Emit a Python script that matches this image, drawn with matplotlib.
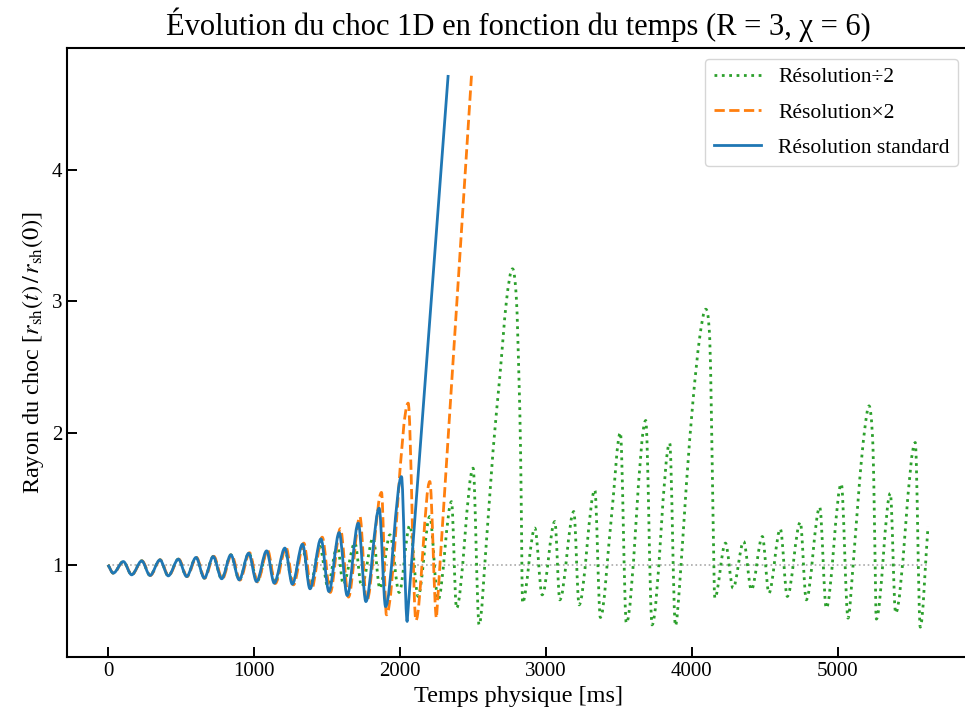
import matplotlib
matplotlib.use('Agg')
import matplotlib.pyplot as plt
from matplotlib.path import Path
from matplotlib.patches import PathPatch
from matplotlib.lines import Line2D

plt.rcParams['font.family'] = ['Liberation Serif', 'DejaVu Serif']
plt.rcParams['mathtext.fontset'] = 'stix'

# temps [ms] / rayon normalise, extrema
t_std = [0, 36, 105, 162, 231, 288, 356, 413, 482, 539, 603, 660, 721, 779,
         842, 899, 964, 1018, 1087, 1139, 1212, 1263, 1333, 1384, 1459, 1514,
         1584, 1639, 1715, 1767, 1858, 1902, 2011, 2050, 2331]
r_std = [1.0, 0.937, 1.025, 0.924, 1.03, 0.919, 1.038, 0.916, 1.043, 0.911,
         1.056, 0.899, 1.063, 0.894, 1.076, 0.886, 1.088, 0.873, 1.106, 0.861,
         1.127, 0.853, 1.157, 0.818, 1.197, 0.797, 1.245, 0.767, 1.317, 0.721,
         1.43, 0.683, 1.67, 0.57, 4.72]

t_x2 = [0, 37, 106, 163, 233, 290, 358, 415, 485, 542, 606, 663, 725, 783,
        847, 904, 970, 1024, 1094, 1146, 1220, 1271, 1342, 1393, 1468, 1523,
        1592, 1648, 1726, 1772, 1874, 1908, 2057, 2110, 2205, 2251, 2491]
r_x2 = [1.0, 0.937, 1.025, 0.924, 1.03, 0.919, 1.038, 0.916, 1.043, 0.911,
        1.056, 0.899, 1.065, 0.893, 1.078, 0.884, 1.092, 0.87, 1.11, 0.858,
        1.133, 0.848, 1.165, 0.81, 1.21, 0.79, 1.275, 0.755, 1.367, 0.72,
        1.55, 0.62, 2.228, 0.577, 1.633, 0.595, 4.72]

t_d2 = [0, 36, 105, 162, 231, 288, 356, 413, 482, 539, 603, 660, 721, 779,
        842, 899, 966, 1022, 1090, 1145, 1212, 1265, 1332, 1385, 1452, 1505,
        1572, 1612, 1692, 1738, 1817, 1863, 1932, 1995, 2068, 2125, 2205, 2262,
        2354, 2388, 2502, 2543, 2594, 2639, 2685, 2731, 2772, 2799, 2817, 2827,
        2834, 2840, 2925, 2975, 3062, 3096, 3192, 3228, 3336, 3374, 3450, 3511,
        3552, 3685, 3728, 3849, 3888, 3918, 3964, 4009, 4055, 4096, 4123, 4135,
        4146, 4158, 4231, 4283, 4356, 4409, 4484, 4529, 4607, 4655, 4744, 4785,
        4877, 4922, 5025, 5071, 5105, 5151, 5185, 5215, 5242, 5253, 5265, 5361,
        5397, 5532, 5566, 5619]
r_d2 = [1.0, 0.937, 1.025, 0.924, 1.03, 0.919, 1.038, 0.916, 1.043, 0.911,
        1.056, 0.899, 1.063, 0.894, 1.076, 0.886, 1.088, 0.875, 1.10, 0.866,
        1.115, 0.855, 1.13, 0.845, 1.14, 0.84, 1.15, 0.85, 1.167, 0.835,
        1.205, 0.82, 1.228, 0.79, 1.30, 0.76, 1.367, 0.734, 1.48, 0.67,
        1.734, 0.544, 1.19, 1.873, 2.43, 3.01, 3.248, 3.01, 2.38, 1.87,
        1.24, 0.71, 1.279, 0.772, 1.329, 0.734, 1.405, 0.696, 1.569, 0.60,
        1.367, 2.005, 0.557, 2.096, 0.544, 1.924, 0.537, 0.86, 1.62, 2.25,
        2.73, 2.941, 2.73, 2.13, 1.37, 0.747, 1.165, 0.823, 1.177, 0.81,
        1.215, 0.785, 1.273, 0.76, 1.324, 0.734, 1.438, 0.671, 1.615, 0.595,
        0.987, 1.645, 2.025, 2.207, 1.898, 1.266, 0.588, 1.544, 0.633, 1.929,
        0.527, 1.29]


def courbe(t, r, droit_fin=False):
    # trace lisse entre les points lus (tangente nulle aux extrema)
    n = len(t)
    pentes = []
    for i in range(n):
        if i == 0:
            m = (r[1] - r[0]) / (t[1] - t[0])
        elif i == n - 1:
            m = (r[-1] - r[-2]) / (t[-1] - t[-2])
        elif (r[i] - r[i - 1]) * (r[i + 1] - r[i]) <= 0:
            m = 0.0
        else:
            m = (r[i + 1] - r[i - 1]) / (t[i + 1] - t[i - 1])
        pentes.append(m)
    verts = [(t[0], r[0])]
    codes = [Path.MOVETO]
    for i in range(n - 1):
        if droit_fin and i == n - 2:
            verts.append((t[i + 1], r[i + 1]))
            codes.append(Path.LINETO)
            continue
        dt = (t[i + 1] - t[i]) / 3
        verts += [(t[i] + dt, r[i] + pentes[i] * dt),
                  (t[i + 1] - dt, r[i + 1] - pentes[i + 1] * dt),
                  (t[i + 1], r[i + 1])]
        codes += [Path.CURVE4] * 3
    return Path(verts, codes)


fig = plt.figure(figsize=(9.65, 7.26), dpi=100)
# l'axe depasse a droite de l'image (bord droit coupe comme sur l'original)
ax = fig.add_axes([67 / 965, 69 / 726, 902 / 965, 609 / 726])

ax.hlines(1.0, 0, t_d2[-1], colors='darkgray', linestyles=':', linewidth=1.2, zorder=1)

styles = [(t_d2, r_d2, ':', 'tab:green', 'Résolution÷2', False),
          (t_x2, r_x2, '--', 'tab:orange', 'Résolution×2', True),
          (t_std, r_std, '-', 'tab:blue', 'Résolution standard', True)]
handles = []
for k, (t, r, ls, c, lab, droit) in enumerate(styles):
    ax.add_patch(PathPatch(courbe(t, r, droit), fill=False, edgecolor=c,
                           linestyle=ls, linewidth=2, zorder=2 + k,
                           capstyle='butt', joinstyle='round'))
    handles.append(Line2D([], [], linestyle=ls, color=c, linewidth=2, label=lab))

ax.set_xlim(-281, 5900)
ax.set_ylim(0.30, 4.925)
ax.set_xticks([0, 1000, 2000, 3000, 4000, 5000])
ax.set_yticks([1, 2, 3, 4])
ax.tick_params(direction='in', length=7, width=1.4, labelsize=15)
for s in ax.spines.values():
    s.set_linewidth(1.5)

ax.set_title('Évolution du choc 1D en fonction du temps (R = 3, χ = 6)', fontsize=22, pad=9)
ax.set_xlabel('Temps physique [ms]', fontsize=17.5)
ax.set_ylabel(r'Rayon du choc [$r_\mathrm{sh}(t)\,/\,r_\mathrm{sh}(0)$]', fontsize=17.5)
ax.legend(handles=handles, loc='upper right', fontsize=15.5, handlelength=2.2,
          labelspacing=0.7)

fig.savefig('out.png', dpi=100)
